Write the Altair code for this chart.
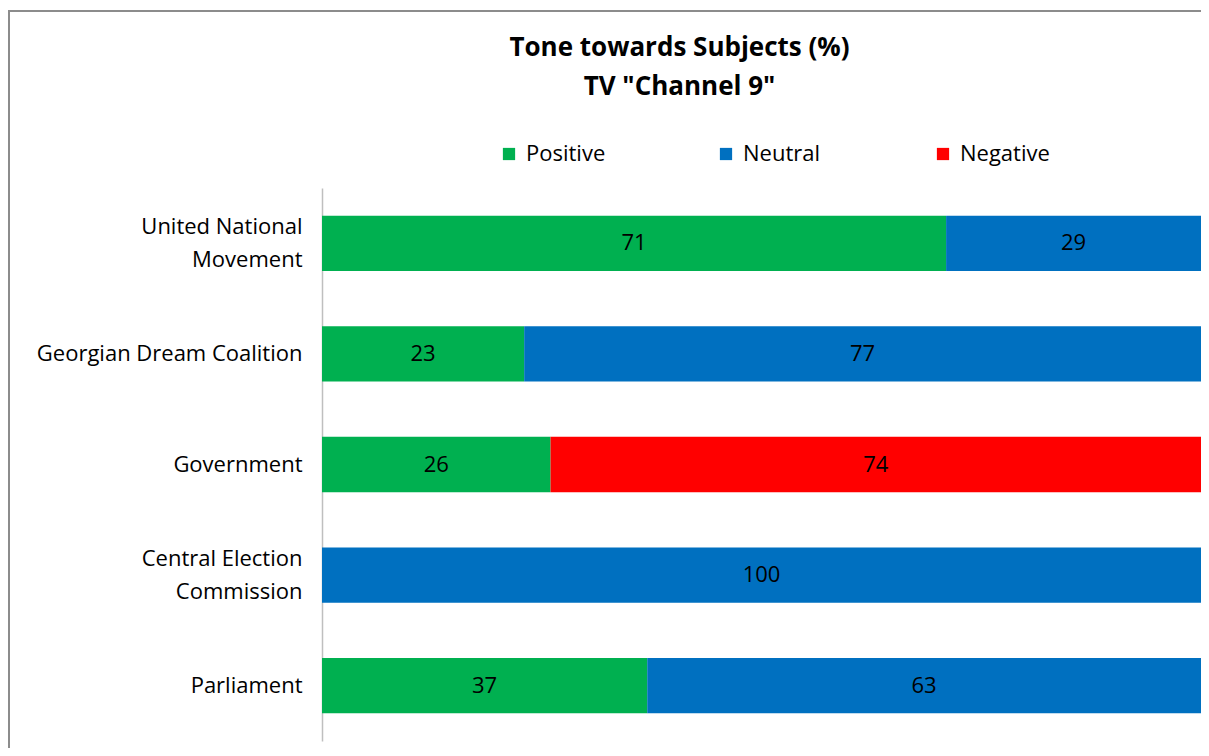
import altair as alt
import pandas as pd

subjects = ["United National\nMovement", "Georgian Dream Coalition", "Government",
            "Central Election\nCommission", "Parliament"]
tones = ["Positive", "Neutral", "Negative"]
positive = [71, 23, 26, 0, 37]
neutral = [29, 77, 0, 100, 63]
negative = [0, 0, 74, 0, 0]
colors = ["#00b050", "#0070c0", "#ff0000"]

rows = []
for i, s in enumerate(subjects):
    for j, (t, vals) in enumerate(zip(tones, [positive, neutral, negative])):
        if vals[i] > 0:
            rows.append({"subject": s, "tone": t, "value": vals[i], "ord": j})
df = pd.DataFrame(rows)

FONT = "Open Sans"

base = alt.Chart(df).transform_stack(
    stack="value", groupby=["subject"], as_=["x0", "x1"],
    sort=[alt.SortField("ord", order="ascending")]
).transform_calculate(mid="(datum.x0 + datum.x1) / 2")

yenc = alt.Y("subject:N", sort=subjects, title=None,
             scale=alt.Scale(paddingInner=0.5, paddingOuter=0.25),
             axis=alt.Axis(labelFontSize=22, labelFont=FONT, labelColor="#000000",
                           labelPadding=20, ticks=False, domainColor="#bfbfbf",
                           domainWidth=1.5, labelLineHeight=33, labelLimit=400,
                           labelExpr="split(datum.label, '\\n')",
                           labelOffset={"condition": {"test": "indexof(datum.value, '\\n') >= 0",
                                                      "value": -16},
                                        "value": 0}))

bars = base.mark_bar().encode(
    x=alt.X("x0:Q", scale=alt.Scale(domain=[0, 100], nice=False), axis=None),
    x2="x1:Q",
    y=yenc,
    color=alt.Color("tone:N", scale=alt.Scale(domain=tones, range=colors),
                    legend=alt.Legend(title=None, orient="none", legendX=176, legendY=-45,
                                      direction="horizontal", columns=3, gridAlign="all",
                                      columnPadding=99, symbolType="square", symbolSize=150,
                                      symbolStrokeWidth=0, labelFontSize=22, labelFont=FONT,
                                      labelColor="#000000", labelOffset=6)),
)

labels = base.mark_text(fontSize=22, font=FONT, color="#000000").encode(
    x=alt.X("mid:Q", scale=alt.Scale(domain=[0, 100], nice=False), axis=None),
    y=alt.Y("subject:N", sort=subjects),
    text="value:Q",
)

frame = alt.Chart(pd.DataFrame({"a": [0]})).mark_rect(
    fill=None, stroke="#8c8c8c", strokeWidth=2
).encode(x=alt.value(-313), x2=alt.value(1000), y=alt.value(-177), y2=alt.value(700))

chart = alt.layer(frame, bars, labels).properties(
    width=879, height=553,
    title=alt.TitleParams(["Tone towards Subjects (%)", 'TV "Channel 9"'],
                          font=FONT, fontSize=26, fontWeight="bold", color="#000000",
                          anchor="middle", lineHeight=39, dx=-82, offset=-90),
    autosize=alt.AutoSizeParams(type="none"),
    padding={"left": 314, "top": 180, "right": 0, "bottom": 7},
).configure_view(stroke=None)

chart.save("out.html", embed_options={"renderer": "svg", "actions": False})
